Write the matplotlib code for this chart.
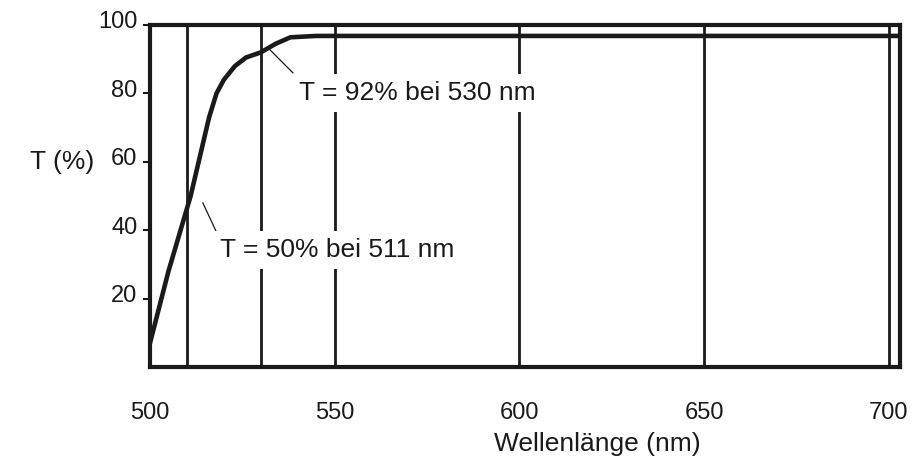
import matplotlib
matplotlib.use("Agg")
import matplotlib.pyplot as plt
import matplotlib.transforms as mtransforms

plt.rcParams['font.family'] = ['Liberation Sans', 'DejaVu Sans']

# transmission curve of the edge filter
wavelength = [500, 505, 511, 516, 518, 520, 523, 526, 530, 534, 538, 545, 703]
transmission = [7, 28, 50, 73, 80, 84, 88, 90.5, 92, 94.5, 96.4, 96.8, 96.8]

grid_x = [510, 530, 550, 600, 650, 700]
x_ticks = [500, 550, 600, 650, 700]
y_ticks = [20, 40, 60, 80, 100]

# leader lines of the two labels: (x0, x1), (y0, y1)
lead_92 = ([532.5, 538.7], [92.7, 86.0])
lead_50 = ([514.3, 518.1], [48.0, 39.2])

ink = '#1a1a1a'

fig = plt.figure(figsize=(9.14, 4.62), dpi=100)
ax = fig.add_axes([0.1641, 0.2056, 0.8206, 0.7403])

for gx in grid_x:
    ax.axvline(gx, color=ink, lw=2.0, zorder=1)

ax.plot(wavelength, transmission, color=ink, lw=3.3, zorder=3,
        solid_joinstyle='round')

ax.set_xlim(500, 703)
ax.set_ylim(0, 100)

for side in ax.spines.values():
    side.set_linewidth(3.0)
    side.set_color(ink)
    side.set_zorder(4)

ax.set_xticks(x_ticks)
ax.tick_params(axis='x', length=0, pad=25, labelsize=17, colors=ink)
ax.set_yticks(y_ticks)
ax.tick_params(axis='y', direction='out', length=5, width=1.5, pad=4,
               labelsize=17, colors=ink)
shift = mtransforms.ScaledTranslation(0, 0.05, fig.dpi_scale_trans)
for lbl in ax.get_yticklabels():
    lbl.set_transform(lbl.get_transform() + shift)

ax.set_xlabel('Wellenlänge (nm)', fontsize=19, color=ink)
ax.xaxis.set_label_coords(0.596, -0.19)
fig.text(0.033, 0.65, 'T (%)', fontsize=19, color=ink, va='center', ha='left')

box = dict(facecolor='white', edgecolor='none', pad=5)
ax.plot(*lead_92, color=ink, lw=0.9, zorder=5)
ax.plot(*lead_50, color=ink, lw=0.9, zorder=5)
ax.text(540.2, 80.1, 'T = 92% bei 530 nm', fontsize=19, color=ink,
        va='center', ha='left', bbox=box, zorder=5)
ax.text(518.9, 34.2, 'T = 50% bei 511 nm', fontsize=19, color=ink,
        va='center', ha='left', bbox=box, zorder=5)

fig.savefig('out.png', dpi=100)
